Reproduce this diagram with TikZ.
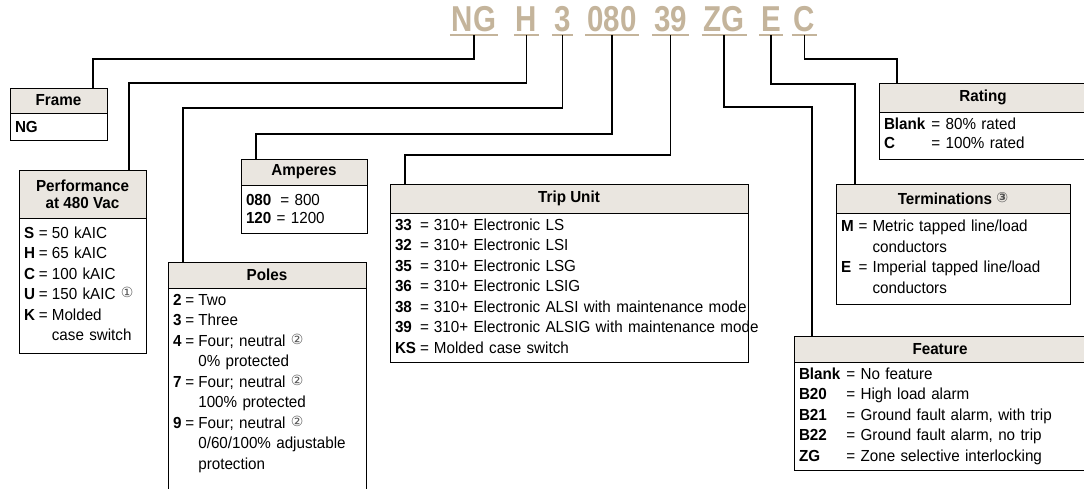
\documentclass[tikz,border=0pt]{standalone}
\usepackage{fontspec}
\setmainfont{Liberation Sans}[FakeStretch=0.95]
\newfontfamily\codefont{Liberation Sans}[FakeStretch=0.82]
\newfontfamily\circfont{DejaVu Sans}
\usepackage{tikz}
\usetikzlibrary{positioning}
\definecolor{CodeTan}{HTML}{C4B49B}
\definecolor{HeadFill}{HTML}{EAE6E0}
\definecolor{NoteGray}{HTML}{555555}
\newcommand{\cnum}[1]{\raisebox{0.25ex}{\circfont\fontsize{14}{14}\selectfont\color{NoteGray}#1}}

\begin{document}
\begin{tikzpicture}[x=1pt,y=-1pt,
    code/.style={text=CodeTan,font=\codefont\fontsize{36}{36}\selectfont\bfseries,inner xsep=2pt,inner ysep=4pt,text depth=0pt,anchor=base,outer sep=0pt},
    under/.style={CodeTan,line width=1.6pt},
    link/.style={line width=1.8pt},
    head/.style={draw,fill=HeadFill,line width=1pt,anchor=north west,inner sep=0pt,outer sep=0pt,align=center,font=\fontsize{16}{17}\selectfont\bfseries},
    body/.style={draw,line width=1pt,inner xsep=5pt,inner ysep=3pt,outer sep=0pt,align=left,font=\fontsize{16}{20.5}\selectfont}]
  \useasboundingbox (0,0) rectangle (1084,488);

  % catalog number
  \node[code] (cNG)  at (474,31)   {NG};
  \node[code] (cH)   at (526.5,31) {H};
  \node[code] (c3)   at (562.5,31) {3};
  \node[code] (c080) at (612,31)   {080};
  \node[code] (c39)  at (670.5,31) {39};
  \node[code] (cZG)  at (724,31)   {ZG};
  \node[code] (cE)   at (771,31)   {E};
  \node[code] (cC)   at (804.5,31) {C};
  \foreach \c in {cNG,cH,c3,c080,c39,cZG,cE,cC}
    \draw[under] (\c.south west) -- (\c.south east);

  % boxes
  \node[head,minimum width=97pt,minimum height=25pt] (frmH) at (10,88) {Frame};
  \node[body,below=0pt of frmH,text width=87pt,minimum height=27pt] (frmB) {\textbf{NG}};

  \node[head,minimum width=127pt,minimum height=48pt] (perfH) at (19,170) {Performance\\at 480 Vac};
  \node[body,below=0pt of perfH,text width=117pt,minimum height=135pt] (perfB) {%
    \begin{tabular}{@{}l@{\hspace{4pt}}l@{\hspace{4pt}}l@{}}
      \textbf{S} & = & 50 kAIC\\
      \textbf{H} & = & 65 kAIC\\
      \textbf{C} & = & 100 kAIC\\
      \textbf{U} & = & 150 kAIC \cnum{①}\\
      \textbf{K} & = & Molded\\
                 &   & case switch
    \end{tabular}};

  \node[head,minimum width=198pt,minimum height=26pt] (poleH) at (168,262) {Poles};
  \node[body,below=0pt of poleH,text width=188pt] (poleB) {%
    \begin{tabular}{@{}l@{\hspace{4pt}}l@{\hspace{4pt}}l@{}}
      \textbf{2} & = & Two\\
      \textbf{3} & = & Three\\
      \textbf{4} & = & Four; neutral \cnum{②}\\
                 &   & 0\% protected\\
      \textbf{7} & = & Four; neutral \cnum{②}\\
                 &   & 100\% protected\\
      \textbf{9} & = & Four; neutral \cnum{②}\\
                 &   & 0/60/100\% adjustable\\
                 &   & protection\\
                 &   & \rule{0pt}{24pt}
    \end{tabular}};

  \node[head,minimum width=126pt,minimum height=26pt] (ampH) at (241,159) {Amperes};
  \node[body,below=0pt of ampH,text width=116pt,minimum height=48pt,font=\fontsize{16}{17.5}\selectfont] (ampB)
    {\textbf{080}\hspace{9pt}= 800\\ \textbf{120} = 1200};

  \node[head,minimum width=358pt,minimum height=29pt] (tripH) at (390,184) {Trip Unit};
  \node[body,below=0pt of tripH,text width=348pt] (tripB) {%
    \begin{tabular}{@{}l@{\hspace{4pt}}l@{\hspace{5pt}}l@{}}
      \textbf{33} & = & 310+ Electronic LS\\
      \textbf{32} & = & 310+ Electronic LSI\\
      \textbf{35} & = & 310+ Electronic LSG\\
      \textbf{36} & = & 310+ Electronic LSIG\\
      \textbf{38} & = & 310+ Electronic ALSI with maintenance mode\\
      \textbf{39} & = & 310+ Electronic ALSIG with maintenance mode\\
      \textbf{KS} & = & Molded case switch
    \end{tabular}};

  \node[head,minimum width=208pt,minimum height=29pt] (rateH) at (879,83) {Rating};
  \node[body,below=0pt of rateH,text width=198pt,minimum height=47pt,font=\fontsize{16}{18.5}\selectfont] (rateB) {%
    \begin{tabular}{@{}l@{\hspace{6pt}}l@{}}
      \textbf{Blank} & = 80\% rated\\
      \textbf{C}     & = 100\% rated
    \end{tabular}};

  \node[head,minimum width=234pt,minimum height=29pt] (termH) at (836,184) {Terminations \cnum{③}};
  \node[body,below=0pt of termH,text width=224pt,minimum height=91pt] (termB) {%
    \begin{tabular}{@{}l@{\hspace{5pt}}l@{\hspace{5pt}}l@{}}
      \textbf{M} & = & Metric tapped line/load\\
                 &   & conductors\\
      \textbf{E} & = & Imperial tapped line/load\\
                 &   & conductors
    \end{tabular}};

  \node[head,minimum width=292pt,minimum height=26pt] (featH) at (794,336) {Feature};
  \node[body,below=0pt of featH,text width=282pt] (featB) {%
    \begin{tabular}{@{}l@{\hspace{6pt}}l@{}}
      \textbf{Blank} & = No feature\\
      \textbf{B20}   & = High load alarm\\
      \textbf{B21}   & = Ground fault alarm, with trip\\
      \textbf{B22}   & = Ground fault alarm, no trip\\
      \textbf{ZG}    & = Zone selective interlocking
    \end{tabular}};

  % leaders
  \draw[link] (cNG.south)  -- ++(0,24)  -| ([xshift=83pt]frmH.north west);
  \draw[link] (cH.south)   -- ++(0,48)  -| ([xshift=110pt]perfH.north west);
  \draw[link] (c3.south)   -- ++(0,73)  -| ([xshift=15pt]poleH.north west);
  \draw[link] (c080.south) -- ++(0,99)  -| ([xshift=15pt]ampH.north west);
  \draw[link] (c39.south)  -- ++(0,120) -| ([xshift=15pt]tripH.north west);
  \draw[link] (cZG.south)  -- ++(0,72)  -| ([xshift=18pt]featH.north west);
  \draw[link] (cE.south)   -- ++(0,49)  -| ([xshift=19pt]termH.north west);
  \draw[link] (cC.south)   -- ++(0,24)  -| ([xshift=18pt]rateH.north west);
\end{tikzpicture}
\end{document}
